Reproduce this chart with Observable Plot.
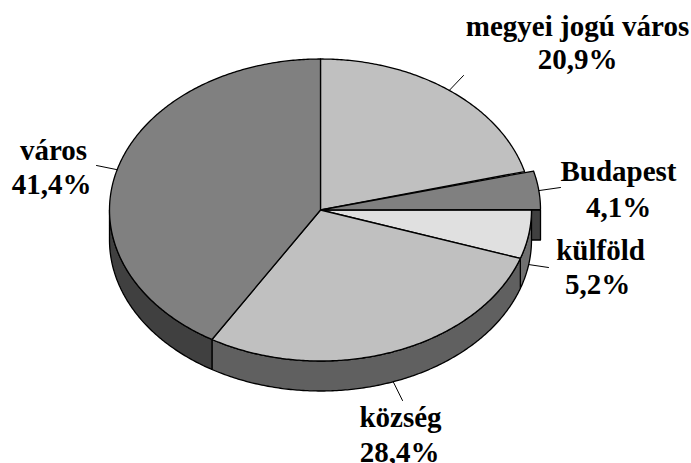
<!DOCTYPE html>
<html><head><meta charset="utf-8">
<style>html,body{margin:0;padding:0;background:#fff;overflow:hidden}svg{display:block}</style>
<script src="https://cdn.jsdelivr.net/npm/d3@7"></script>
<script src="https://cdn.jsdelivr.net/npm/@observablehq/plot@0.6"></script>
</head><body><div id="chart"></div>
<script>
const categories = ["megyei jogú város", "Budapest", "külföld", "község", "város"];
const shares = [20.9, 4.1, 5.2, 28.4, 41.4];

// appearance and layout (pixels of the 691x463 frame)
const topFill = ["#c0c0c0", "#808080", "#e0e0e0", "#c0c0c0", "#808080"];
const sideFill = ["#606060", "#404040", "#707070", "#606060", "#404040"];
const explodeX = [0, 9, 0, 0, 0];
const explodeY = [0, -0.5, 0, 0, 0];
const labelCx = [577, 618, 600, 400, 53];
const valueCx = [577, 618, 597, 399, 51];
const labelBase1 = [35, 180, 259, 426, 159];
const labelBase2 = [68, 216, 293, 461, 193];
const leaderEndX = [463, 560, 548, 402, 96];
const leaderEndY = [75, 187, 267, 400, 165];
const cx = 320, cy = 209.5, rx = 211, ry = 151, depth = 30;

const total = d3.sum(shares);
const slices = shares.map((v, i) => {
  const a0 = d3.sum(shares.slice(0, i)) / total * 2 * Math.PI;
  const a1 = a0 + v / total * 2 * Math.PI;
  return {i, a0, a1, mid: (a0 + a1) / 2};
});
const rim = (a, dx = 0, dz = 0) => ({x: cx + dx + rx * Math.sin(a), y: cy + dz - ry * Math.cos(a)});
function arc(a0, a1, dx = 0, dz = 0) {
  const n = Math.max(2, Math.ceil((a1 - a0) / 0.01));
  return d3.range(n + 1).map(k => rim(a0 + (a1 - a0) * k / n, dx, dz));
}
const closed = pts => [...pts, pts[0]];
const topFace = s => closed([{x: cx, y: cy}, ...arc(s.a0, s.a1, explodeX[s.i], explodeY[s.i])]);
const sideFace = (a0, a1, dx = 0) => closed([...arc(a0, a1, dx), ...arc(a0, a1, dx, depth).reverse()]);
const face = (pts, fill) => Plot.line(pts, {x: "x", y: "y", fill, stroke: "#000", strokeWidth: 1.3, curve: "linear", strokeLinejoin: "round"});

const bottomLimit = Math.PI * 1.5;
const [megyei, bud, kulf, kozs, varos] = slices;
// Budapest's cut face, seen through the gap opened by pulling the slice out
const cut = closed([{x: cx + explodeX[1], y: cy}, rim(bud.a1, explodeX[1]), rim(bud.a1, explodeX[1], depth), {x: cx + explodeX[1], y: cy + depth}]);

const leaders = slices.map(s => {
  const onSide = s.mid > Math.PI / 2 && s.mid < bottomLimit;
  const p = rim(s.mid, explodeX[s.i], onSide ? depth : 0);
  return [p, {x: leaderEndX[s.i], y: leaderEndY[s.i]}];
});
const fmt = v => v.toFixed(1).replace(".", ",") + "%";
const line1 = categories.map((t, i) => ({t, x: labelCx[i], y: labelBase1[i]}));
const line2 = shares.map((v, i) => ({t: fmt(v), x: valueCx[i], y: labelBase2[i]}));
const textOpts = {x: "x", y: "y", text: "t", fontFamily: "Liberation Serif", fontWeight: "bold", fontSize: 29, fill: "#000", textAnchor: "middle", lineAnchor: "bottom"};

const plot = Plot.plot({
  width: 691, height: 463,
  margin: 0,
  style: {background: "#fff", overflow: "hidden"},
  x: {domain: [0, 691], range: [0, 691], axis: null},
  y: {domain: [0, 463], range: [0, 463], axis: null},
  marks: [
    face(cut, sideFill[1]),
    face(sideFace(kulf.a0, kulf.a1), sideFill[2]),
    face(sideFace(kozs.a0, kozs.a1), sideFill[3]),
    face(sideFace(varos.a0, bottomLimit), sideFill[4]),
    face(topFace(megyei), topFill[0]),
    face(topFace(kulf), topFill[2]),
    face(topFace(kozs), topFill[3]),
    face(topFace(varos), topFill[4]),
    face(topFace(bud), topFill[1]),
    ...leaders.map(l => Plot.line(l, {x: "x", y: "y", stroke: "#000", strokeWidth: 1})),
    Plot.text(line1, textOpts),
    Plot.text(line2, textOpts)
  ]
});
document.getElementById("chart").append(plot);
</script></body></html>
